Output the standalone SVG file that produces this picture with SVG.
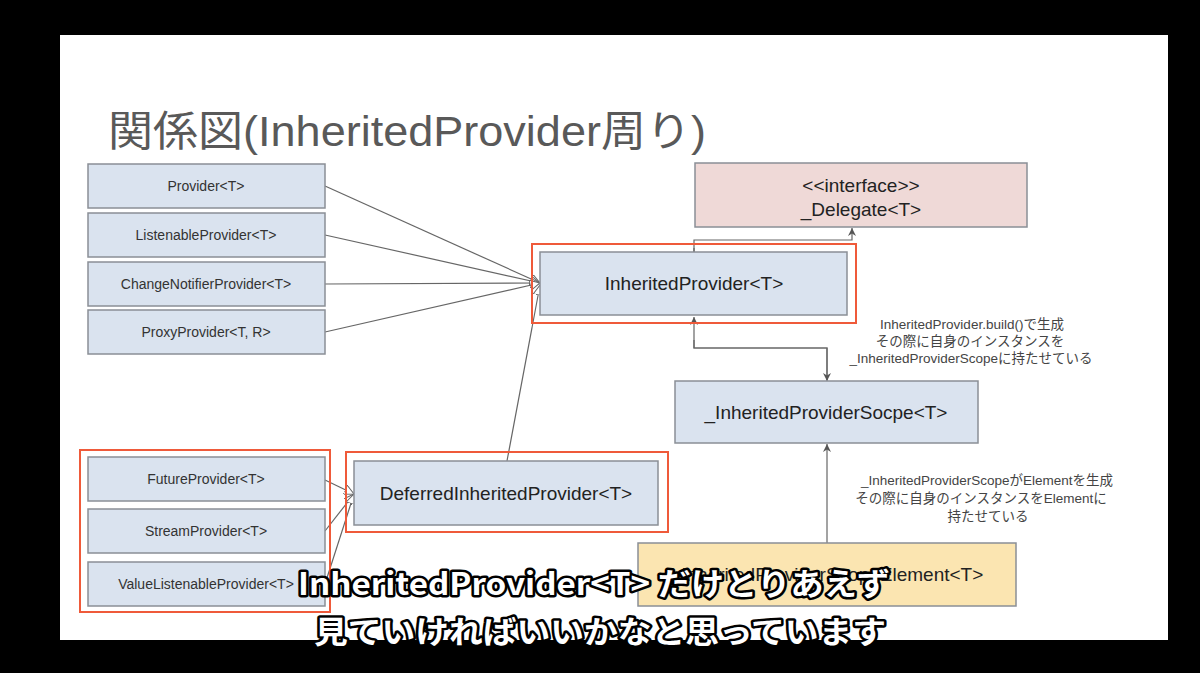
<svg xmlns="http://www.w3.org/2000/svg" width="1200" height="673" viewBox="0 0 1200 673">
<style>
.n{fill:#dae3ef;stroke:#8a8f96;stroke-width:1.5}
.r{fill:none;stroke:#ef5a3a;stroke-width:2}
.s{font-family:"Liberation Sans","Noto Sans CJK JP",sans-serif;font-size:14px;fill:#333;text-anchor:middle}
.m{font-family:"Liberation Sans","Noto Sans CJK JP",sans-serif;font-size:19px;fill:#222;text-anchor:middle}
.l{font-family:"Liberation Sans","Noto Sans CJK JP",sans-serif;font-size:13.5px;fill:#444;text-anchor:middle}
.c{fill:none;stroke:#666;stroke-width:1.2}
.sub{font-family:"Noto Sans CJK JP",sans-serif;font-weight:bold;font-size:31px;fill:#fff;stroke:#000;stroke-width:5;paint-order:stroke;stroke-linejoin:round}
</style>
<defs>
<marker id="tri" viewBox="0 0 10 10" refX="10" refY="5" markerWidth="10" markerHeight="10" orient="auto" markerUnits="userSpaceOnUse"><path d="M0,0 L10,5 L0,10 z" fill="#fff" stroke="#666"/></marker>
<marker id="ar" viewBox="0 0 10 10" refX="10" refY="5" markerWidth="8" markerHeight="8" orient="auto" markerUnits="userSpaceOnUse"><path d="M0,0 L10,5 L0,10 L3,5 z" fill="#555"/></marker>
</defs>
<rect width="1200" height="673" fill="#000"/>
<rect x="60" y="35" width="1108" height="605" fill="#fff"/>
<text x="108" y="146" font-family="'Liberation Sans','Noto Sans CJK JP',sans-serif" font-size="42" fill="#595959" textLength="598" lengthAdjust="spacingAndGlyphs">関係図(InheritedProvider周り)</text>
<g id="connectors">
<line class="c" x1="325" y1="186" x2="540" y2="283" marker-end="url(#tri)"/>
<line class="c" x1="325" y1="235" x2="540" y2="283" marker-end="url(#tri)"/>
<line class="c" x1="325" y1="284" x2="540" y2="283" marker-end="url(#tri)"/>
<line class="c" x1="325" y1="332" x2="540" y2="283" marker-end="url(#tri)"/>
<line class="c" x1="507" y1="461" x2="540" y2="285" marker-end="url(#tri)"/>
<line class="c" x1="325" y1="480" x2="354" y2="494" marker-end="url(#tri)"/>
<line class="c" x1="325" y1="531" x2="354" y2="494" marker-end="url(#tri)"/>
<line class="c" x1="325" y1="584" x2="354" y2="494" marker-end="url(#tri)"/>
<path class="c" d="M694,260 V240 H852 V228" marker-end="url(#ar)"/>
<path class="c" d="M694,248 V260" marker-end="url(#ar)"/>
<path class="c" d="M827,380 V348 H694 V317" marker-end="url(#ar)"/>
<path class="c" d="M694,340 V348 H827 V381" marker-end="url(#ar)"/>
<path class="c" d="M827,543 V444" marker-end="url(#ar)"/>
</g>
<g id="provider"><rect class="n" x="88" y="164" width="237" height="44"/><text class="s" x="206" y="191">Provider&lt;T&gt;</text></g>
<g id="listenable"><rect class="n" x="88" y="213" width="237" height="44"/><text class="s" x="206" y="240">ListenableProvider&lt;T&gt;</text></g>
<g id="changenotifier"><rect class="n" x="88" y="262" width="237" height="44"/><text class="s" x="206" y="289">ChangeNotifierProvider&lt;T&gt;</text></g>
<g id="proxy"><rect class="n" x="88" y="310" width="237" height="44"/><text class="s" x="206" y="337">ProxyProvider&lt;T, R&gt;</text></g>
<rect class="r" x="80" y="450" width="250" height="162"/>
<g id="future"><rect class="n" x="88" y="457" width="237" height="44"/><text class="s" x="206" y="484">FutureProvider&lt;T&gt;</text></g>
<g id="stream"><rect class="n" x="88" y="509" width="237" height="44"/><text class="s" x="206" y="536">StreamProvider&lt;T&gt;</text></g>
<g id="valuelistenable"><rect class="n" x="88" y="562" width="237" height="44"/><text class="s" x="206" y="589">ValueListenableProvider&lt;T&gt;</text></g>
<rect class="r" x="346" y="452" width="322" height="80"/>
<g id="deferred"><rect class="n" x="354" y="461" width="304" height="64"/><text class="m" x="506" y="500">DeferredInheritedProvider&lt;T&gt;</text></g>
<rect class="r" x="532" y="244" width="324" height="79"/>
<g id="inherited"><rect class="n" x="540" y="252" width="307" height="63"/><text class="m" x="694" y="290">InheritedProvider&lt;T&gt;</text></g>
<g id="delegate"><rect x="695" y="163" width="332" height="64" fill="#efd9d7" stroke="#8a8f96" stroke-width="1.5"/><text class="m" x="861" y="192">&lt;&lt;interface&gt;&gt;</text><text class="m" x="861" y="216">_Delegate&lt;T&gt;</text></g>
<g id="scope"><rect class="n" x="675" y="381" width="303" height="62"/><text class="m" x="826" y="419">_InheritedProviderSocpe&lt;T&gt;</text></g>
<g id="element"><rect x="638" y="543" width="378" height="63" fill="#fbe5b1" stroke="#8a8f96" stroke-width="1.5"/><text class="m" x="827" y="581">_InheritedProviderScopeElement&lt;T&gt;</text></g>
<g id="labels">
<text class="l" x="972" y="329">InheritedProvider.build()で生成</text>
<text class="l" x="970" y="346">その際に自身のインスタンスを</text>
<text class="l" x="971" y="363">_InheritedProviderScopeに持たせている</text>
<text class="l" x="987" y="485">_InheritedProviderScopeがElementを生成</text>
<text class="l" x="981" y="503">その際に自身のインスタンスをElementに</text>
<text class="l" x="988" y="521">持たせている</text>
</g>
<text class="sub" x="298" y="595" textLength="592" lengthAdjust="spacingAndGlyphs">InheritedProvider&lt;T&gt; だけとりあえず</text>
<text class="sub" x="314" y="643" textLength="572" lengthAdjust="spacingAndGlyphs">見ていければいいかなと思っています</text>
</svg>
